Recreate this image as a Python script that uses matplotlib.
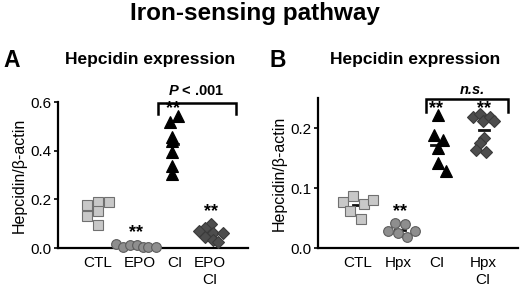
import matplotlib
matplotlib.use("Agg")
import matplotlib.pyplot as plt
import numpy as np

plt.rcParams['font.family'] = ['Liberation Sans', 'DejaVu Sans']
plt.rcParams['mathtext.fontset'] = 'custom'
plt.rcParams['mathtext.it'] = 'Liberation Sans:italic:bold'

# ---- panel A data ----
a_labels = ['CTL', 'EPO', 'CI', 'EPO\nCI']
a_ctl = [0.177, 0.190, 0.190, 0.153, 0.131, 0.095]
a_epo = [0.015, 0.004, 0.012, 0.014, 0.004, 0.006, 0.003]
a_ci = [0.543, 0.519, 0.455, 0.440, 0.396, 0.337, 0.304]
a_epoci = [0.100, 0.082, 0.068, 0.063, 0.063, 0.046, 0.033, 0.024]
a_stars = [None, 0.062, 0.574, 0.149]

# ---- panel B data ----
b_labels = ['CTL', 'Hpx', 'CI', 'Hpx\nCI']
b_ctl = [0.077, 0.087, 0.073, 0.080, 0.062, 0.048]
b_hpx = [0.042, 0.0395, 0.029, 0.0255, 0.029, 0.018]
b_ci = [0.222, 0.188, 0.180, 0.166, 0.141, 0.129]
b_hpxci = [0.218, 0.224, 0.212, 0.218, 0.211, 0.184, 0.175, 0.163, 0.160]
b_stars = [None, 0.0605, 0.233, 0.233]

# layout: group centres and horizontal scatter of points
a_pos = [1, 2, 3, 4]
a_tickpos = [0.98, 2.1, 3.05, 3.98]
a_off = [[-0.29, 0, 0.29, 0, -0.29, 0],
         [-0.53, -0.34, -0.16, 0.03, 0.19, 0.34, 0.53],
         [0.13, -0.1, -0.03, -0.03, -0.03, -0.03, -0.03],
         [0, -0.16, -0.32, 0.05, 0.32, -0.16, 0.05, 0.19]]
b_pos = [1.0, 2.05, 2.95, 4.15]
b_tickpos = [0.98, 2.0, 2.98, 4.12]
b_off = [[-0.38, -0.12, 0.15, 0.38, -0.2, 0.07],
         [-0.125, 0.125, -0.29, -0.04, 0.375, 0.17],
         [0.04, -0.04, 0.18, 0.04, 0.04, 0.24],
         [-0.28, -0.1, -0.03, 0.15, 0.25, 0.0, -0.1, -0.2, 0.05]]

styles = [dict(marker='s', ms=7, mfc='#c8c8c8', mec='#707070'),
          dict(marker='o', ms=7, mfc='#8e8e8e', mec='#5c5c5c'),
          dict(marker='^', ms=8, mfc='#000000', mec='#000000'),
          dict(marker='D', ms=6, mfc='#4d4d4d', mec='#3a3a3a')]

fig = plt.figure(figsize=(5.2, 2.89), dpi=100)
fig.text(0.49, 0.931, 'Iron-sensing pathway', ha='center', va='baseline',
         fontsize=17.5, fontweight='bold')


def panel(rect, groups, pos, tickpos, offs, labels, stars, xlim, ylim, yticks,
          fmt, letter, letter_x, title_x):
    ax = fig.add_axes(rect)
    for i, vals in enumerate(groups):
        x = pos[i] + np.array(offs[i])
        m = np.mean(vals)
        ax.plot([pos[i] - 0.12, pos[i] + 0.12], [m, m], color='#111111', lw=2, zorder=2)
        ax.plot(x, vals, ls='none', mew=0.8, clip_on=False, zorder=3, **styles[i])
        if stars[i] is not None:
            ax.text(pos[i], stars[i], '**', ha='center', va='center',
                    fontsize=13, fontweight='bold')
    ax.set_xlim(*xlim)
    ax.set_ylim(*ylim)
    ax.set_yticks(yticks)
    ax.set_yticklabels([fmt % v for v in yticks], fontsize=11)
    ax.set_xticks(tickpos)
    ax.set_xticklabels(labels, fontsize=11)
    ax.tick_params(axis='x', length=0, pad=6)
    ax.tick_params(axis='y', length=3, width=1.2, pad=2)
    for s in ['top', 'right']:
        ax.spines[s].set_visible(False)
    for s in ['left', 'bottom']:
        ax.spines[s].set_linewidth(1.6)
    ax.set_ylabel('Hepcidin/β-actin', fontsize=11.5, labelpad=2)
    fig.text(letter_x, 0.768, letter, fontsize=16.5, fontweight='bold', va='baseline')
    fig.text(title_x, 0.779, 'Hepcidin expression', ha='center', va='baseline',
             fontsize=12.5, fontweight='bold')
    return ax


axA = panel([58 / 520, 41 / 289, 190 / 520, 146 / 289],
            [a_ctl, a_epo, a_ci, a_epoci], a_pos, a_tickpos, a_off, a_labels,
            a_stars, (-0.06, 4.98), (0, 0.6), [0.0, 0.2, 0.4, 0.6], '%.1f',
            'A', 0.006, 0.288)
# bracket CI vs EPO CI
axA.plot([2.58, 2.58, 4.65, 4.65], [0.55, 0.597, 0.597, 0.55], color='black',
         lw=1.8, clip_on=False, solid_joinstyle='miter')
axA.text(3.6, 0.645, r'$P$ < .001', ha='center', va='center', fontsize=10.5,
         fontweight='bold')

axB = panel([318 / 520, 41 / 289, 200 / 520, 150 / 289],
            [b_ctl, b_hpx, b_ci, b_hpxci], b_pos, b_tickpos, b_off, b_labels,
            b_stars, (0, 5), (0, 0.25), [0.0, 0.1, 0.2], '%.1f',
            'B', 0.519, 0.798)
axB.plot([2.7, 2.7, 4.74, 4.74], [0.227, 0.248, 0.248, 0.227], color='black',
         lw=1.8, clip_on=False, solid_joinstyle='miter')
axB.text(3.87, 0.263, 'n.s.', ha='center', va='center', fontsize=10.5,
         fontweight='bold', fontstyle='italic')

fig.savefig('out.png', dpi=100)
